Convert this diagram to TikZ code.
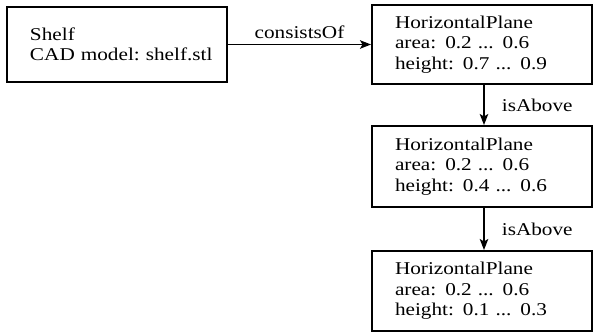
\documentclass[tikz,border=0pt]{standalone}
\usepackage{fontspec}
\setmainfont{Liberation Serif}[FakeStretch=1.18]
\usetikzlibrary{arrows.meta}
\tikzset{
  box/.style={draw, line width=2pt, rectangle, minimum width=220pt, text width=174pt,
    inner xsep=23pt, inner ysep=0pt, align=left, font=\fontsize{18}{20.5}\selectfont},
  conn/.style={line width=1.7pt, -{Stealth[length=11pt,width=8.5pt,inset=2.5pt]}},
  lbl/.style={font=\fontsize{18}{20.5}\selectfont, inner sep=2pt}
}
\begin{document}
\begin{tikzpicture}[x=1pt,y=1pt]
\useasboundingbox (0,0) rectangle (595,334);
\node[box, minimum height=75pt] (shelf) at (117,289.5) {Shelf\\CAD~model:~shelf.stl};
\node[box, minimum height=79pt] (p1) at (482,289.5) {HorizontalPlane\\area: 0.2 ... 0.6\\height: 0.7 ... 0.9};
\node[box, minimum height=81pt] (p2) at (482,167.5) {HorizontalPlane\\area: 0.2 ... 0.6\\height: 0.4 ... 0.6};
\node[box, minimum height=80pt] (p3) at (482,43) {HorizontalPlane\\area: 0.2 ... 0.6\\height: 0.1 ... 0.3};
\draw[conn] (shelf.east) -- node[lbl, above=3pt] {consistsOf} (p1.west);
\draw[conn] ([xshift=2pt]p1.south) -- node[lbl, right=15pt] {isAbove} ([xshift=2pt]p2.north);
\draw[conn] ([xshift=2pt]p2.south) -- node[lbl, right=15pt] {isAbove} ([xshift=2pt]p3.north);
\end{tikzpicture}
\end{document}
